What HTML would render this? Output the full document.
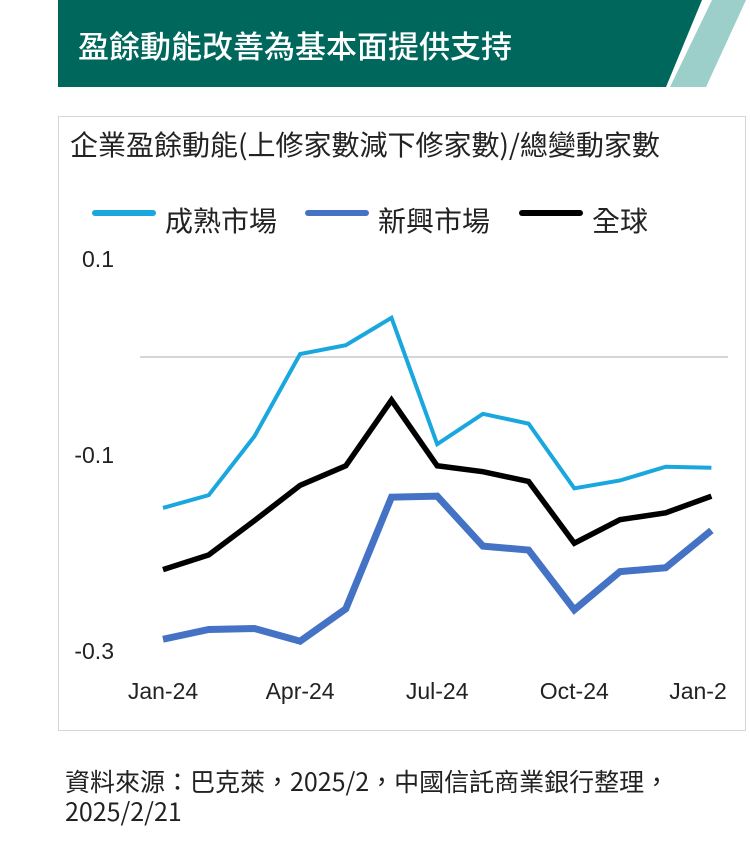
<!DOCTYPE html>
<html><head><meta charset="utf-8">
<style>
body{margin:0;background:#fff;width:750px;height:851px;overflow:hidden;font-family:"Liberation Sans","Noto Sans CJK TC",sans-serif;}
#root{position:relative;width:750px;height:851px;}
.t{position:absolute;white-space:nowrap;}
</style></head>
<body>
<div id="root">
<svg class="t" style="left:0;top:0" width="750" height="90">
  <polygon points="58,0 702,0 666,87 58,87" fill="#00675c"/>
  <polygon points="712,0 746,0 706,87 670,87" fill="#9ccfc9"/>
</svg>
<div class="t" style="left:78px;top:22px;font-size:31px;color:#fff;font-family:'Noto Sans CJK TC',sans-serif;font-weight:500;">盈餘動能改善為基本面提供支持</div>
<div class="t" style="left:58px;top:116px;width:686px;height:613px;border:1.5px solid #d6d6d6;"></div>
<div class="t" style="left:70px;top:124px;font-size:28px;color:#222;font-family:'Noto Sans CJK TC',sans-serif;">企業盈餘動能(上修家數減下修家數)/總變動家數</div>
<svg class="t" id="chart" style="left:0;top:0" width="750" height="740"></svg>
<div class="t" style="left:65px;top:766px;font-size:25px;line-height:30px;color:#222;font-family:'Noto Sans CJK TC',sans-serif;">資料來源：巴克萊，2025/2，中國信託商業銀行整理，<br>2025/2/21</div>
</div>
<script>
const categories=["Jan-24","Feb-24","Mar-24","Apr-24","May-24","Jun-24","Jul-24","Aug-24","Sep-24","Oct-24","Nov-24","Dec-24","Jan-25"];
const developed=[-0.154,-0.141,-0.081,0.003,0.012,0.040,-0.089,-0.058,-0.068,-0.134,-0.126,-0.112,-0.113];
const emerging=[-0.288,-0.278,-0.277,-0.290,-0.257,-0.143,-0.142,-0.193,-0.197,-0.258,-0.219,-0.215,-0.177];
const globalS=[-0.217,-0.202,-0.167,-0.131,-0.111,-0.044,-0.111,-0.117,-0.127,-0.190,-0.166,-0.159,-0.142];
const yTicks=[0.1,-0.1,-0.3];
const yTickLabels=["0.1","-0.1","-0.3"];
const xTickIdx=[0,3,6,9,12];
const xTickLabels=["Jan-24","Apr-24","Jul-24","Oct-24","Jan-2"];
const seriesNames=["成熟市場","新興市場","全球"];

const NS="http://www.w3.org/2000/svg";
const svg=document.getElementById('chart');
const x=i=>163+i*45.7;
const y=v=>357-v*980;
function mk(tag,attrs){const e=document.createElementNS(NS,tag);for(const k in attrs)e.setAttribute(k,attrs[k]);svg.appendChild(e);return e;}
let g=mk('line',{x1:140,x2:728,y1:y(0),y2:y(0),stroke:'#c8c8c8','stroke-width':1.5});


yTicks.forEach((v,i)=>{
  const t=mk('text',{x:114,y:y(v)+8,'text-anchor':'end','font-size':23,fill:'#222','font-family':'Liberation Sans, sans-serif'});
  t.textContent=yTickLabels[i];
  
  
});
xTickIdx.forEach((ix,i)=>{
  const t=mk('text',{x:Math.min(x(ix),698),y:699,'text-anchor':'middle','font-size':23,fill:'#222','font-family':'Liberation Sans, sans-serif'});
  t.textContent=xTickLabels[i];
  
  
});
const series=[[developed,'#1aa7de',4,'developed-line'],[emerging,'#4472c4',7,'emerging-line'],[globalS,'#000',5.5,'global-line']];
series.forEach(s=>{
  const p=mk('polyline',{points:s[0].map((v,i)=>x(i)+','+y(v)).join(' '),fill:'none',stroke:s[1],'stroke-width':s[2],'stroke-linejoin':'miter'});
  
  
});
const legX=[95,308,522];
series.forEach((s,i)=>{
  const l=mk('line',{x1:legX[i],x2:legX[i]+58,y1:213,y2:213,stroke:s[1],'stroke-width':6,'stroke-linecap':'round'});
  
  
  const t=mk('text',{x:legX[i]+70,y:231,'font-size':28,fill:'#222','font-family':'Noto Sans CJK TC, sans-serif'});
  t.textContent=seriesNames[i];
  
  
});
</script>
</body></html>
